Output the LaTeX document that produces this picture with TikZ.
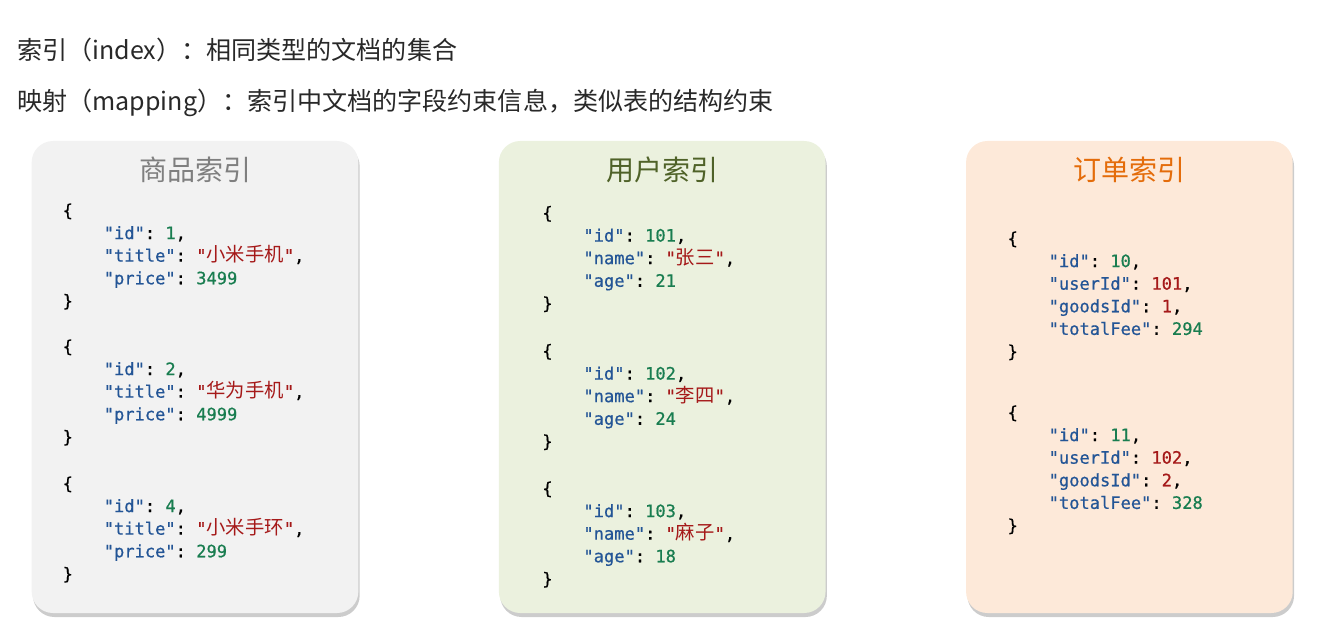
\documentclass[tikz,border=0pt]{standalone}
\usepackage{fontspec}
\setmainfont{Noto Sans CJK SC}
\setmonofont{DejaVu Sans Mono}[FakeBold=0.7]
\newfontfamily\cjk{Noto Sans CJK SC}
\usepackage{xcolor}
\usepackage{tikz}
\usetikzlibrary{calc,positioning,shadows}
\definecolor{headgray}{RGB}{40,40,40}
\definecolor{goodsfill}{RGB}{242,242,242}
\definecolor{goodstitle}{RGB}{127,127,127}
\definecolor{userfill}{RGB}{235,241,222}
\definecolor{usertitle}{RGB}{79,98,40}
\definecolor{orderfill}{RGB}{253,233,217}
\definecolor{ordertitle}{RGB}{228,108,10}
\definecolor{jsonkey}{RGB}{35,85,150}
\definecolor{jsonnum}{RGB}{25,125,80}
\definecolor{jsonstr}{RGB}{165,25,25}
\newcommand{\jind}{\phantom{xxxx}}
\newcommand{\jkey}[1]{\textcolor{jsonkey}{"#1"}:}
\newcommand{\jnum}[1]{\textcolor{jsonnum}{#1}}
\newcommand{\jref}[1]{\textcolor{jsonstr}{#1}}
\newcommand{\jstr}[1]{\textcolor{jsonstr}{"{\cjk\fontsize{14.5pt}{16.95pt}\selectfont#1}"}}

\begin{document}
\begin{tikzpicture}[
    x=0.75pt, y=-0.75pt,
    headline/.style={anchor=west, inner sep=0pt, text=headgray, font=\fontsize{18.8pt}{22pt}\selectfont},
    idxbox/.style={rounded corners=16pt, minimum width=245pt, minimum height=354pt,
      drop shadow={opacity=0.4, shadow xshift=1pt, shadow yshift=-3pt}},
    idxtitle/.style={inner sep=0pt, font=\fontsize{21pt}{25pt}\selectfont},
    jsonblock/.style={anchor=north west, inner sep=0pt, align=left,
      font=\ttfamily\fontsize{12.8pt}{16.95pt}\selectfont}
  ]
    \useasboundingbox (0,0) rectangle (1328,624);

    \node[headline] (indexdef) at (17,50) {索引（index）：相同类型的文档的集合};
    \node[headline] (mappingdef) at (17,103) {映射（mapping）：索引中文档的字段约束信息，类似表的结构约束};

    \node[idxbox, fill=goodsfill] (goods) at (195,377) {};
    \node[idxbox, fill=userfill, right=105pt of goods] (user) {};
    \node[idxbox, fill=orderfill, right=105pt of user] (order) {};

    \node[idxtitle, text=goodstitle] (goodsname) at ($(goods.north)+(0,29)$) {商品索引};
    \node[idxtitle, text=usertitle] (username) at ($(user.north)+(0,29)$) {用户索引};
    \node[idxtitle, text=ordertitle] (ordername) at ($(order.north)+(0,29)$) {订单索引};

    % goods documents
    \node[jsonblock] (goods1) at ($(goods.north west)+(31,62.5)$)
      {\{\\\jind\jkey{id} \jnum{1},\\\jind\jkey{title} \jstr{小米手机},\\\jind\jkey{price} \jnum{3499}\\\}};
    \node[jsonblock] (goods2) at ($(goods.north west)+(31,198.5)$)
      {\{\\\jind\jkey{id} \jnum{2},\\\jind\jkey{title} \jstr{华为手机},\\\jind\jkey{price} \jnum{4999}\\\}};
    \node[jsonblock] (goods3) at ($(goods.north west)+(31,335.5)$)
      {\{\\\jind\jkey{id} \jnum{4},\\\jind\jkey{title} \jstr{小米手环},\\\jind\jkey{price} \jnum{299}\\\}};

    % user documents
    \node[jsonblock] (user1) at ($(user.north west)+(43.5,65)$)
      {\{\\\jind\jkey{id} \jnum{101},\\\jind\jkey{name} \jstr{张三},\\\jind\jkey{age} \jnum{21}\\\}};
    \node[jsonblock] (user2) at ($(user.north west)+(43.5,203)$)
      {\{\\\jind\jkey{id} \jnum{102},\\\jind\jkey{name} \jstr{李四},\\\jind\jkey{age} \jnum{24}\\\}};
    \node[jsonblock] (user3) at ($(user.north west)+(43.5,340.5)$)
      {\{\\\jind\jkey{id} \jnum{103},\\\jind\jkey{name} \jstr{麻子},\\\jind\jkey{age} \jnum{18}\\\}};

    % order documents
    \node[jsonblock] (order1) at ($(order.north west)+(41.5,90.5)$)
      {\{\\\jind\jkey{id} \jnum{10},\\\jind\jkey{userId} \jref{101},\\\jind\jkey{goodsId} \jref{1},\\\jind\jkey{totalFee} \jnum{294}\\\}};
    \node[jsonblock] (order2) at ($(order.north west)+(41.5,264.5)$)
      {\{\\\jind\jkey{id} \jnum{11},\\\jind\jkey{userId} \jref{102},\\\jind\jkey{goodsId} \jref{2},\\\jind\jkey{totalFee} \jnum{328}\\\}};
  \end{tikzpicture}
\end{document}
